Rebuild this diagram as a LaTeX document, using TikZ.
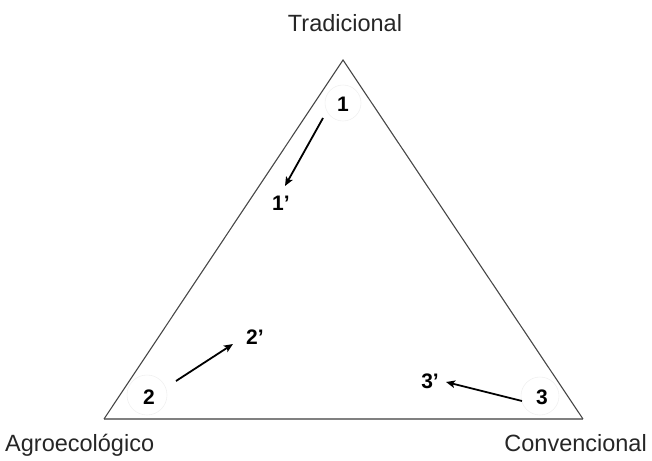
\documentclass[tikz,border=0pt]{standalone}
\usepackage{fontspec}
\setmainfont{Liberation Sans}
\usetikzlibrary{arrows.meta}
\begin{document}
\begin{tikzpicture}[x=1pt,y=-1pt,
  corner/.style={font=\fontsize{23.5}{27}\selectfont, text=black!85, inner sep=0pt},
  num/.style={font=\fontsize{21}{24}\selectfont\bfseries, inner sep=0pt},
  halo/.style={draw=black!6, line width=0.6pt},
  side/.style={draw=black!72, line width=1.1pt},
  base/.style={draw=black!50, line width=2pt},
  move/.style={draw=black, line width=1.8pt, -{Stealth[length=9pt,width=7.5pt,inset=2pt]}}]
\useasboundingbox (0,0) rectangle (652,460);
% triangle
\coordinate (A) at (104,419);
\coordinate (B) at (583,419);
\coordinate (C) at (343,60);
\draw[base] (A) -- (B);
\draw[side] (A) -- (C) -- (B);
% labels
\node[corner, anchor=base] (trad) at (345,32) {Tradicional};
\node[corner, anchor=base west] (agro) at (5,451) {Agroecológico};
\node[corner, anchor=base east] (conv) at (647,451) {Convencional};
% halos
\draw[halo] (343,103) circle (18);
\draw[halo] (147,395) circle (20);
\draw[halo] (540,396) circle (19);
% numbers
\node[num] (n1) at (343,104.5) {1};
\node[num] (n1p) at (281,203) {1’};
\node[num] (n2) at (149,397.5) {2};
\node[num] (n2p) at (255,337) {2’};
\node[num] (n3) at (542,397.5) {3};
\node[num] (n3p) at (430,381) {3’};
% arrows
\coordinate (a1s) at (323,118);
\coordinate (a1e) at (285,186);
\coordinate (a2s) at (176,381);
\coordinate (a2e) at (233,344);
\coordinate (a3s) at (522,401);
\coordinate (a3e) at (446,382);
\draw[move] (a1s) -- (a1e);
\draw[move] (a2s) -- (a2e);
\draw[move] (a3s) -- (a3e);
\end{tikzpicture}
\end{document}
